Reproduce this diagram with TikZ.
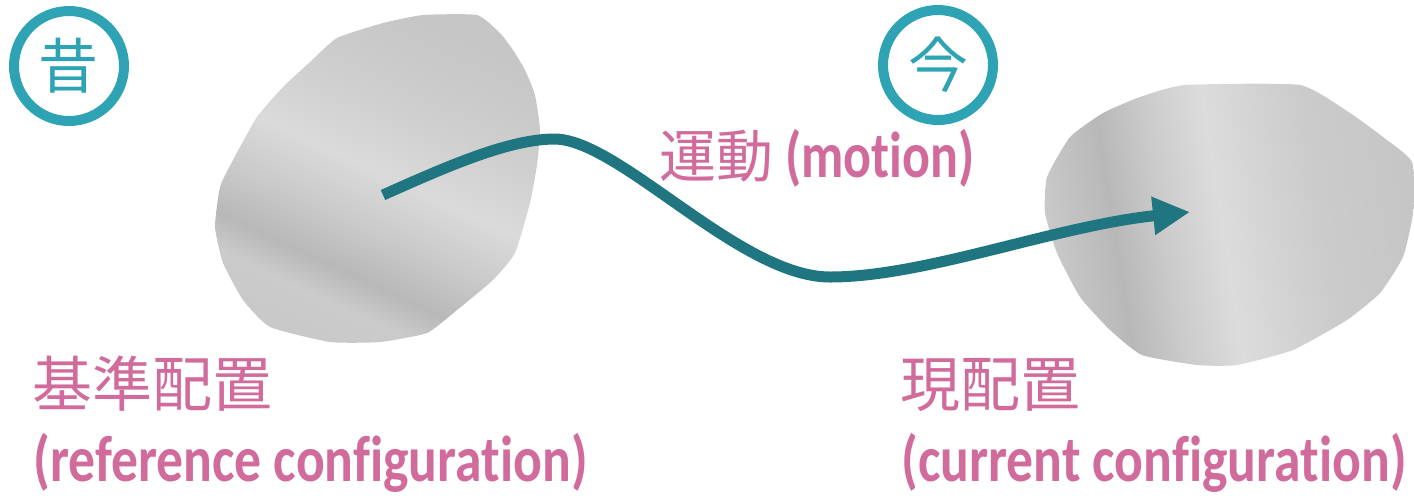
\documentclass[tikz,border=0pt]{standalone}
\usepackage{fontspec}
\usepackage{graphicx}
\setmainfont{Carlito}[Ligatures=NoCommon]
\newfontfamily\jpfont{Noto Sans CJK JP}
\usetikzlibrary{arrows.meta}
\definecolor{ringteal}{HTML}{2DA3B3}
\definecolor{arrowteal}{HTML}{1F7680}
\definecolor{labelpink}{HTML}{D06B9B}
\definecolor{gA}{HTML}{C6C6C6}
\definecolor{gB}{HTML}{CBCBCB}
\definecolor{gC}{HTML}{B8B8B8}
\definecolor{gD}{HTML}{DADADA}
\definecolor{gE}{HTML}{CFCFCF}
\definecolor{gF}{HTML}{C9C9C9}
\definecolor{gG}{HTML}{DCDCDC}
\definecolor{gH}{HTML}{D3D3D3}
\pgfdeclarehorizontalshading{lblob}{100bp}{color(0bp)=(gF); color(25bp)=(gF); color(30bp)=(gB); color(35bp)=(gC); color(43bp)=(gB); color(51bp)=(gD); color(61bp)=(gE); color(69bp)=(gF); color(75bp)=(gA); color(100bp)=(gA)}
\pgfdeclarehorizontalshading{rblob}{100bp}{color(0bp)=(gF); color(25bp)=(gF); color(34bp)=(gC); color(41bp)=(gB); color(49bp)=(gG); color(56bp)=(gH); color(63bp)=(gB); color(75bp)=(gA); color(100bp)=(gA)}
\newcommand{\latinlbl}[2][0.825]{\scalebox{#1}[1]{\fontsize{32.5}{38}\selectfont\bfseries #2}}
\begin{document}
\begin{tikzpicture}[x=0.5pt,y=-0.5pt,
  ring/.style={draw=ringteal,line width=5pt},
  ringchar/.style={text=ringteal,font=\jpfont\fontsize{30}{36}\selectfont,inner sep=0},
  lbl/.style={text=labelpink,inner sep=0,anchor=base west},
  jplbl/.style={lbl,font=\jpfont\fontsize{30}{36}\selectfont},
  motionarrow/.style={draw=arrowteal,line width=5.5pt,-{Triangle[length=18.5pt,width=18pt]}}]
\useasboundingbox (0,0) rectangle (1414,495);
% blobs
\shade[shading=lblob,shading angle=65] plot[smooth cycle,tension=0.3] coordinates {
 (337,38) (383,23) (423,15) (477,15) (500,33) (513,50) (525,70) (535,95) (540,130)
 (537,165) (530,203) (515,253) (493,280) (457,310) (427,333) (380,342) (330,342)
 (270,327) (243,300) (223,263) (215,227) (220,187) (233,160) (257,117) (283,87) (310,62)};
\shade[shading=rblob,shading angle=9] plot[smooth cycle,tension=0.3] coordinates {
 (1140,97) (1185,85) (1300,85) (1350,113) (1383,137) (1412,162) (1413,213) (1403,257)
 (1380,293) (1347,320) (1293,350) (1237,365) (1197,365) (1142,355) (1110,330) (1080,297)
 (1057,253) (1045,213) (1047,177) (1070,137) (1103,113)};
% rings
\node[ring,circle,minimum size=110pt*0.5,inner sep=0] (past) at (69,66) {};
\node[ringchar] (pastchar) at (past.center) {昔};
\node[ring,circle,minimum size=110pt*0.5,inner sep=0] (now) at (938,65) {};
\node[ringchar] (nowchar) at (now.center) {今};
% motion arrow
\coordinate (start) at (383,195);
\coordinate (end) at (1190,212);
\draw[motionarrow] (start) .. controls (450,165) and (510,139) .. (555,139)
  .. controls (620,140) and (740,277) .. (830,277)
  .. controls (925,277) and (1055,226) .. (end);
% labels
\node[lbl] (motion) at (659,177) {{\jpfont\fontsize{28.5}{34}\selectfont 運動}\latinlbl[0.8]{\ (motion)}};
\node[jplbl] (refjp) at (32,406) {基準配置};
\node[lbl] (refen) at (33,481) {\latinlbl{(reference configuration)}};
\node[jplbl] (curjp) at (900,406) {現配置};
\node[lbl] (curen) at (901,481) {\latinlbl{(current configuration)}};
\end{tikzpicture}
\end{document}
